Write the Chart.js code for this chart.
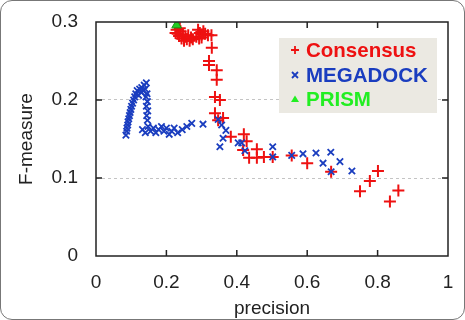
<!DOCTYPE html>
<html>
<head>
<meta charset="utf-8">
<script src="https://cdn.jsdelivr.net/npm/chart.js@4"></script>
<style>
  html, body { margin: 0; padding: 0; background: #fff; }
  #wrap { position: relative; width: 463px; height: 318px; border: 1px solid #777; border-radius: 12px; overflow: hidden; }
  canvas { position: absolute; left: -1px; top: -1px; }
</style>
</head>
<body>
<div id="wrap"><canvas id="c" width="465" height="320"></canvas></div>
<script>
// Consensus (red +)
const consensusX = [0.229,0.232,0.236,0.240,0.243,0.247,0.250,0.254,0.258,0.262,0.266,0.270,0.275,0.238,0.226,
  0.290,0.295,0.300,0.305,0.310,0.318,0.328,0.293,0.285,0.300,
  0.329,0.321,0.321,0.343,0.343,0.338,0.352,0.338,0.361,0.347,0.383,0.420,0.428,0.418,0.457,
  0.435,0.457,0.477,0.502,0.556,0.600,0.668,0.750,0.778,0.801,0.835,0.859];
const consensusY = [0.290,0.285,0.282,0.288,0.279,0.284,0.276,0.281,0.278,0.283,0.276,0.280,0.278,0.292,0.286,
  0.290,0.286,0.284,0.288,0.285,0.283,0.283,0.279,0.281,0.280,
  0.267,0.250,0.245,0.238,0.226,0.204,0.200,0.183,0.177,0.174,0.153,0.156,0.147,0.136,0.137,
  0.126,0.126,0.127,0.127,0.129,0.119,0.108,0.083,0.096,0.109,0.070,0.084];

// MEGADOCK (blue x)
const megadockX = [0.085,0.087,0.088,0.090,0.091,0.093,0.095,0.097,0.099,0.101,0.104,0.107,0.110,0.113,0.117,0.121,0.124,0.128,0.130,0.134,0.137,0.140,0.143,
  0.145,0.142,0.146,0.143,0.147,0.144,0.146,
  0.132,0.140,0.148,0.155,0.163,0.170,0.178,0.186,0.193,0.200,0.208,0.215,0.222,0.232,0.245,0.258,0.272,0.304,
  0.347,0.357,0.369,0.361,0.352,0.404,0.414,0.423,0.502,0.502,0.556,0.588,0.625,0.667,0.645,0.693,0.668,0.727];
const megadockY = [0.155,0.160,0.164,0.168,0.172,0.176,0.180,0.184,0.188,0.192,0.196,0.200,0.204,0.208,0.212,0.206,0.214,0.210,0.216,0.212,0.219,0.214,0.222,
  0.208,0.204,0.198,0.192,0.186,0.180,0.174,
  0.162,0.158,0.166,0.160,0.164,0.158,0.162,0.166,0.160,0.164,0.156,0.160,0.164,0.158,0.162,0.166,0.170,0.169,
  0.175,0.168,0.161,0.151,0.140,0.145,0.145,0.135,0.140,0.127,0.129,0.131,0.132,0.133,0.119,0.121,0.108,0.109];

// PRISM (green triangle)
const prismX = [0.229];
const prismY = [0.296];

const xTicks = [0, 0.2, 0.4, 0.6, 0.8, 1];
const xTickLabels = ['0', '0.2', '0.4', '0.6', '0.8', '1'];
const yTicks = [0, 0.1, 0.2, 0.3];
const yTickLabels = ['0', '0.1', '0.2', '0.3'];

const legendItems = ['Consensus', 'MEGADOCK', 'PRISM'];
const legendColors = ['#ee1111', '#1a3dbf', '#22ee22'];

const FONT = 'Arial, "Liberation Sans", sans-serif';

function toPoints(xs, ys) {
  return xs.map((x, i) => ({ x: x, y: ys[i] }));
}

const frameAndTicks = {
  id: 'frameAndTicks',
  afterDatasetsDraw(chart) {
    const { ctx, chartArea: a, scales } = chart;
    ctx.save();
    ctx.strokeStyle = '#222';
    ctx.lineWidth = 1.5;
    ctx.strokeRect(a.left, a.top, a.right - a.left, a.bottom - a.top);
    ctx.beginPath();
    xTicks.slice(1, -1).forEach(v => {
      const px = scales.x.getPixelForValue(v);
      ctx.moveTo(px, a.bottom); ctx.lineTo(px, a.bottom - 6);
      ctx.moveTo(px, a.top); ctx.lineTo(px, a.top + 6);
    });
    yTicks.slice(1, -1).forEach(v => {
      const py = scales.y.getPixelForValue(v);
      ctx.moveTo(a.left, py); ctx.lineTo(a.left + 6, py);
      ctx.moveTo(a.right, py); ctx.lineTo(a.right - 6, py);
    });
    ctx.stroke();

    // legend box
    ctx.fillStyle = '#ebe9e2';
    ctx.fillRect(279, 38, 158, 75);
    ctx.font = 'bold 20.5px ' + FONT;
    ctx.textBaseline = 'middle';
    const rows = [50, 75, 99];
    legendItems.forEach((name, i) => {
      const y = rows[i];
      ctx.strokeStyle = legendColors[i];
      ctx.fillStyle = legendColors[i];
      ctx.lineWidth = 1.8;
      ctx.beginPath();
      if (i === 0) {
        ctx.moveTo(291, y); ctx.lineTo(299, y);
        ctx.moveTo(295, y - 4); ctx.lineTo(295, y + 4);
        ctx.stroke();
      } else if (i === 1) {
        ctx.moveTo(292, y - 3); ctx.lineTo(298, y + 3);
        ctx.moveTo(298, y - 3); ctx.lineTo(292, y + 3);
        ctx.stroke();
      } else {
        ctx.moveTo(295, y - 3.5); ctx.lineTo(299, y + 3); ctx.lineTo(291, y + 3);
        ctx.closePath(); ctx.fill();
      }
      ctx.fillText(name, 306, y + 1);
    });
    ctx.restore();
  }
};

new Chart(document.getElementById('c'), {
  type: 'scatter',
  data: {
    datasets: [
      {
        label: 'PRISM', data: toPoints(prismX, prismY), order: 0,
        pointStyle: 'triangle', pointRadius: 5.5, backgroundColor: '#22cc22', borderColor: '#119911', borderWidth: 1
      },
      {
        label: 'MEGADOCK', data: toPoints(megadockX, megadockY), order: 1,
        pointStyle: 'crossRot', pointRadius: 4.5, borderColor: '#1a3dbf', borderWidth: 1.8, backgroundColor: '#1a3dbf'
      },
      {
        label: 'Consensus', data: toPoints(consensusX, consensusY), order: 2,
        pointStyle: 'cross', pointRadius: 6, borderColor: '#ee1111', borderWidth: 2, backgroundColor: '#ee1111'
      }
    ]
  },
  plugins: [frameAndTicks],
  options: {
    responsive: false,
    animation: false,
    layout: { padding: { top: 22, right: 17, left: 0, bottom: 0 } },
    plugins: { legend: { display: false }, tooltip: { enabled: false } },
    scales: {
      x: {
        type: 'linear', min: 0, max: 1,
        afterBuildTicks: s => { s.ticks = xTicks.map(v => ({ value: v })); },
        afterFit: s => { s.height = 64; s.paddingLeft = 0; s.paddingRight = 0; },
        grid: { display: false, drawTicks: false },
        border: { display: false },
        ticks: { color: '#222', padding: 15, font: { size: 19, family: FONT },
          callback: (v, i) => xTickLabels[i] },
        title: { display: true, text: 'precision', color: '#222', padding: { top: 0, bottom: 0 },
          font: { size: 19, family: FONT } }
      },
      y: {
        type: 'linear', min: 0, max: 0.3,
        afterBuildTicks: s => { s.ticks = yTicks.map(v => ({ value: v })); },
        afterFit: s => { s.width = 96; s.paddingTop = 0; s.paddingBottom = 0; },
        grid: {
          drawTicks: false, lineWidth: 1,
          color: c => (c.tick && (c.tick.value === 0.1 || c.tick.value === 0.2)) ? '#c4c4c4' : 'rgba(0,0,0,0)'
        },
        border: { display: false, dash: [3, 3] },
        ticks: { color: '#222', padding: 18, font: { size: 19, family: FONT },
          callback: (v, i) => yTickLabels[i] },
        title: { display: true, text: 'F-measure', color: '#222', padding: { top: 15, bottom: 0 },
          font: { size: 19, family: FONT } }
      }
    }
  }
});
</script>
</body>
</html>
